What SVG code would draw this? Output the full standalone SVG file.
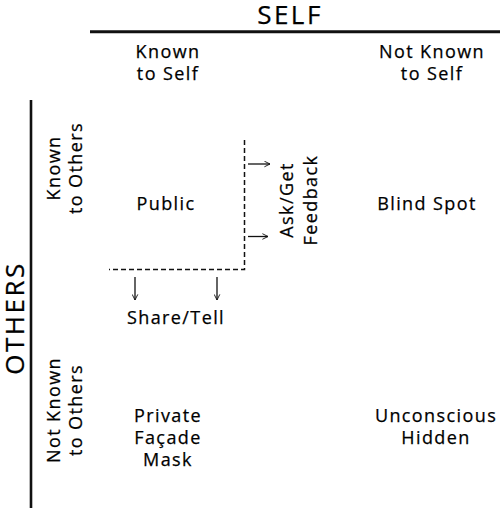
<svg xmlns="http://www.w3.org/2000/svg" width="500" height="508" viewBox="0 0 500 508">
<style>
text{font-family:"Open Sans","Noto Sans","DejaVu Sans",sans-serif;fill:#000;stroke:#000;stroke-width:0.25;text-anchor:middle}
.lbl{font-size:18px;letter-spacing:1.4px}
.big{font-size:26px;letter-spacing:2.5px}
.axis{stroke:#111;fill:none}
.dash{stroke:#111;stroke-width:1.5;stroke-dasharray:5,3;fill:none}
.arr{stroke:#111;stroke-width:1.3;fill:none;marker-end:url(#ah)}
</style>
<defs>
<marker id="ah" viewBox="0 0 10 10" refX="9" refY="5" markerWidth="7" markerHeight="7" markerUnits="userSpaceOnUse" orient="auto">
<path d="M1,1 L9,5 L1,9" fill="none" stroke="#111" stroke-width="1.3"/>
</marker>
</defs>
<rect width="500" height="508" fill="#fff"/>
<g id="axes">
<line class="axis" x1="90" y1="31.7" x2="500" y2="31.7" stroke-width="3"/>
<line class="axis" x1="31" y1="100" x2="31" y2="508" stroke-width="2.6"/>
</g>
<g id="self-title"><text class="big" x="290" y="24">SELF</text></g>
<g id="others-title"><text class="big" transform="translate(24,318) rotate(-90)">OTHERS</text></g>
<g id="col-known"><text class="lbl" x="168" y="58">Known</text><text class="lbl" x="168" y="80">to Self</text></g>
<g id="col-notknown"><text class="lbl" x="432" y="58">Not Known</text><text class="lbl" x="432" y="80">to Self</text></g>
<g id="row-known" transform="translate(0,168) rotate(-90)"><text class="lbl" x="0" y="60">Known</text><text class="lbl" x="0" y="82">to Others</text></g>
<g id="row-notknown" transform="translate(0,410) rotate(-90)"><text class="lbl" x="0" y="60">Not Known</text><text class="lbl" x="0" y="82">to Others</text></g>
<g id="public"><text class="lbl" x="166" y="210">Public</text></g>
<g id="blind"><text class="lbl" x="427" y="210">Blind Spot</text></g>
<g id="private"><text class="lbl" x="168" y="422">Private</text><text class="lbl" x="168" y="444">Façade</text><text class="lbl" x="168" y="466">Mask</text></g>
<g id="unconscious"><text class="lbl" x="436" y="422">Unconscious</text><text class="lbl" x="436" y="444">Hidden</text></g>
<g id="ask"><g transform="translate(0,200) rotate(-90)"><text class="lbl" x="0" y="293">Ask/Get</text><text class="lbl" x="0" y="317">Feedback</text></g></g>
<g id="share"><text class="lbl" x="176" y="324">Share/Tell</text></g>
<g id="connectors">
<path class="dash" d="M244.5,140 V269.5 H109"/>
<line class="arr" x1="248" y1="164" x2="270" y2="164"/>
<line class="arr" x1="248" y1="236.5" x2="268" y2="236.5"/>
<line class="arr" x1="135" y1="277" x2="135" y2="300"/>
<line class="arr" x1="217" y1="277" x2="217" y2="300"/>
</g>
</svg>
